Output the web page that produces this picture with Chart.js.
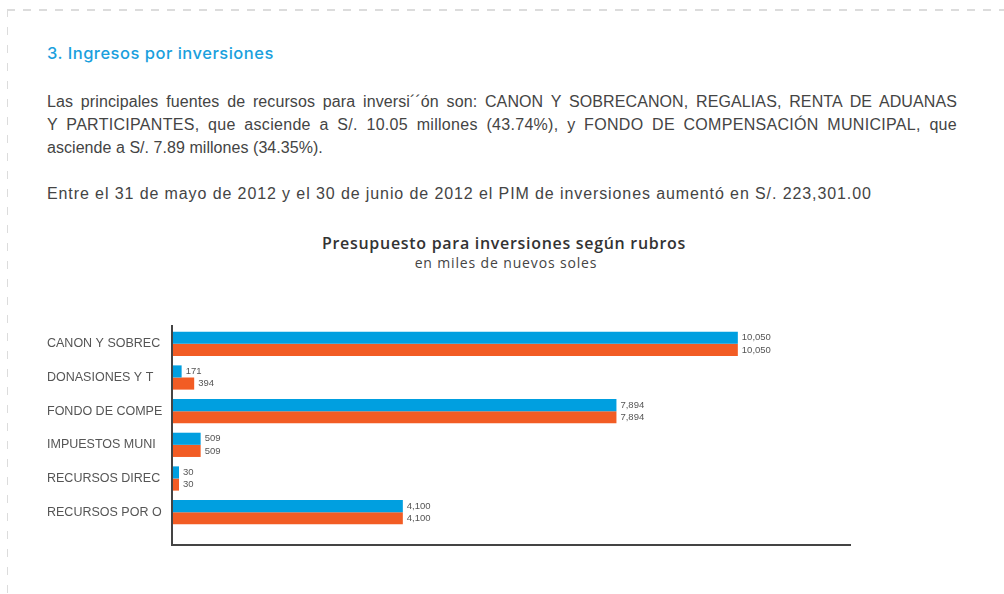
<!DOCTYPE html>
<html>
<head>
<meta charset="utf-8">
<script src="https://cdn.jsdelivr.net/npm/chart.js@4.4.0/dist/chart.umd.min.js"></script>
<style>
  body { margin: 0; background: #fff; width: 1004px; height: 594px; overflow: hidden; position: relative; font-family: "Liberation Sans", Arial, sans-serif; }
  .dash-top { position: absolute; left: 7px; top: 9px; width: 1000px; height: 2px;
    background: repeating-linear-gradient(to right, #dcdcdc 0 8px, transparent 8px 16px); }
  .dash-left { position: absolute; left: 7px; top: 9px; width: 1px; height: 590px;
    background: repeating-linear-gradient(to bottom, #dcdcdc 0 8px, transparent 8px 18px); }
  h3 { position: absolute; left: 47px; top: 43px; margin: 0; font-size: 16.5px; font-weight: 500; letter-spacing: 0.5px; color: #1aa0dd; font-family: Inter, "Liberation Sans", sans-serif; }
  .txt { position: absolute; left: 47px; width: 910px; margin: 0; font-size: 16px; line-height: 23px; color: #444; }
  .txt span { display: block; white-space: nowrap; letter-spacing: 0.9px; }
  .txt span.j { text-align: justify; text-align-last: justify; }
  .ctitle { position: absolute; left: 254px; width: 500px; text-align: center; color: #333; font-family: "Open Sans", sans-serif; }
  #wrap { position: absolute; left: 0; top: 300px; width: 1004px; height: 260px; }
</style>
</head>
<body>
<div class="dash-top"></div>
<div class="dash-left"></div>
<h3>3. Ingresos por inversiones</h3>
<p class="txt" style="top:90px">
  <span class="j" style="letter-spacing:0.1px">Las principales fuentes de recursos para inversi´´ón son: CANON Y SOBRECANON, REGALIAS, RENTA DE ADUANAS</span>
  <span class="j" style="letter-spacing:0.3px">Y PARTICIPANTES, que asciende a S/. 10.05 millones (43.74%), y FONDO DE COMPENSACIÓN MUNICIPAL, que</span>
  <span style="letter-spacing:0.05px">asciende a S/. 7.89 millones (34.35%).</span>
</p>
<p class="txt" style="top:182px"><span>Entre el 31 de mayo de 2012 y el 30 de junio de 2012 el PIM de inversiones aumentó en S/. 223,301.00</span></p>
<div class="ctitle" style="top:232px; font-size:16px; font-weight:600; letter-spacing:0.7px;">Presupuesto para inversiones según rubros</div>
<div class="ctitle" style="top:253px; left:256px; font-size:14px; color:#444; letter-spacing:0.85px;">en miles de nuevos soles</div>
<div id="wrap"><canvas id="chart"></canvas></div>
<script>
const categories = ['CANON Y SOBREC', 'DONASIONES Y T', 'FONDO DE COMPE', 'IMPUESTOS MUNI', 'RECURSOS DIREC', 'RECURSOS POR O'];
const serieA = [10050, 171, 7894, 509, 30, 4100];
const serieB = [10050, 394, 7894, 509, 30, 4100];

const valueLabels = {
    id: 'valueLabels',
    afterDatasetsDraw(chart) {
        const ctx = chart.ctx;
        ctx.save();
        ctx.font = '9.5px "Liberation Sans", Arial, sans-serif';
        ctx.fillStyle = '#555';
        ctx.textBaseline = 'middle';
        ctx.textAlign = 'left';
        chart.data.datasets.forEach((ds, i) => {
            chart.getDatasetMeta(i).data.forEach((bar, j) => {
                ctx.fillText(ds.data[j].toLocaleString('en-US'), bar.x + 4, bar.y);
            });
        });
        ctx.restore();
    }
};

// ejes dibujados a mano: el eje inferior queda un poco por debajo de las barras
const axisLines = {
    id: 'axisLines',
    afterDraw(chart) {
        const a = chart.chartArea;
        const ctx = chart.ctx;
        ctx.save();
        ctx.lineWidth = 2;
        ctx.strokeStyle = '#444';
        ctx.beginPath();
        ctx.moveTo(a.left, a.top - 2);
        ctx.lineTo(a.left, a.bottom + 16);
        ctx.lineTo(a.right, a.bottom + 16);
        ctx.stroke();
        ctx.restore();
    }
};

new Chart(document.getElementById('chart').getContext('2d'), {
    type: 'bar',
    data: {
        labels: categories,
        datasets: [
            { label: 'PIA', data: serieA, backgroundColor: '#009fe0' },
            { label: 'PIM', data: serieB, backgroundColor: '#f25c24' }
        ]
    },
    options: {
        indexAxis: 'y',
        responsive: true,
        maintainAspectRatio: false,
        animation: false,
        layout: { padding: { top: 27, left: 47, right: 153, bottom: 31 } },
        datasets: { bar: { categoryPercentage: 0.72, barPercentage: 1, minBarLength: 7 } },
        plugins: {
            legend: { display: false },
            tooltip: { enabled: false }
        },
        scales: {
            x: { display: false, min: 0, max: 12060 },
            y: {
                grid: { display: false },
                border: { display: false },
                ticks: {
                    crossAlign: 'far',
                    color: '#555',
                    font: { size: 12.5, family: '"Liberation Sans", Arial, sans-serif' }
                },
                afterFit(scale) { scale.width = 125; }
            }
        }
    },
    plugins: [valueLabels, axisLines]
});
</script>
</body>
</html>
